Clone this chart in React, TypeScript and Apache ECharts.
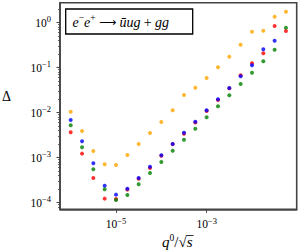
import React, { useEffect, useRef } from "react";
import * as echarts from "echarts";

const xValues = [1e-6, 1.78e-6, 3.16e-6, 5.62e-6, 1e-5, 1.78e-5, 3.16e-5, 5.62e-5, 1e-4, 1.78e-4, 3.16e-4, 5.62e-4, 1e-3, 1.78e-3, 3.16e-3, 5.62e-3, 1e-2, 1.78e-2, 3.16e-2, 5.62e-2];

const orangeValues = [1.05e-2, 3.92e-3, 1.41e-3, 7.13e-4, 6.89e-4, 1.15e-3, 2.01e-3, 3.54e-3, 6.21e-3, 1.13e-2, 2.47e-2, 3.6e-2, 5.9e-2, 1.02e-1, 1.75e-1, 3.24e-1, 6.31e-1, 6.64e-1, 1.36, 1.75];
const blueValues = [6.89e-3, 2.31e-3, 7.5e-4, 2.39e-4, 1.51e-4, 2.05e-4, 3.54e-4, 6.31e-4, 1.13e-3, 2.01e-3, 3.6e-3, 6.31e-3, 1.13e-2, 1.99e-2, 3.54e-2, 6.44e-2, 1.13e-1, 2.56e-1, 3.98e-1];
const redValues = [3.66e-3, 1.23e-3, 3.54e-4, 1.23e-4, 1.21e-4, 1.95e-4, 3.39e-4, 5.89e-4, 1.1e-3, 2.0e-3, 3.41e-3, 6.03e-3, 1.09e-2, 1.91e-2, 3.47e-2, 6.78e-2, 1.25e-1, 2.09e-1, 8.45e-1, 6.55e-1];
const greenValues = [5.25e-3, 1.7e-3, 5.52e-4, 1.99e-4, 1.15e-4, 1.48e-4, 2.56e-4, 4.57e-4, 8.02e-4, 1.43e-3, 2.51e-3, 4.41e-3, 7.91e-3, 1.39e-2, 2.44e-2, 4.35e-2, 7.74e-2, 1.39e-1, 2.51e-1, 7.74e-1];

const xTicks = [1e-5, 1e-3];
const yTicks = [1e-4, 1e-3, 1e-2, 1e-1, 1];
const yMinorTicks = [
  8e-5, 9e-5,
  2e-4, 3e-4, 4e-4, 5e-4, 6e-4, 7e-4, 8e-4, 9e-4,
  2e-3, 3e-3, 4e-3, 5e-3, 6e-3, 7e-3, 8e-3, 9e-3,
  2e-2, 3e-2, 4e-2, 5e-2, 6e-2, 7e-2, 8e-2, 9e-2,
  2e-1, 3e-1, 4e-1, 5e-1, 6e-1, 7e-1, 8e-1, 9e-1,
  2,
];

const X_MIN = 5.81e-7;
const X_MAX = 0.097;
const Y_MIN = 7.13e-5;
const Y_MAX = 2.78;

const SERIF = "Liberation Serif";
const AXIS_COLOR = "#444";

const pow10Label = (v: number) => {
  const e = Math.round(Math.log10(v));
  const s = e < 0 ? "\u2212" + -e : String(e);
  return `{b|10}{s|${s}}`;
};

const labelRich = {
  b: { fontFamily: SERIF, fontSize: 11.5, color: "#000" },
  s: { fontFamily: SERIF, fontSize: 8.5, color: "#000", padding: [0, 0, 7, 0] },
};

const toPairs = (vals: number[]) => vals.map((v, i) => [xValues[i], v]);

export default function App() {
  const ref = useRef<HTMLDivElement>(null);
  useEffect(() => {
    if (!ref.current) return;
    const chart = echarts.init(ref.current, null, { renderer: "svg" });
    const mkSeries = (name: string, vals: number[], color: string) => ({
      name,
      type: "scatter",
      data: toPairs(vals),
      symbol: "circle",
      symbolSize: 4,
      itemStyle: { color },
      yAxisIndex: 0,
    });
    chart.setOption({
      animation: false,
      backgroundColor: "#fff",
      textStyle: { fontFamily: SERIF },
      grid: {
        left: 60,
        right: 3.3,
        top: 2.7,
        bottom: 40.7,
        show: true,
        borderColor: AXIS_COLOR,
        borderWidth: 1.6,
        backgroundColor: "transparent",
      },
      xAxis: {
        type: "log",
        logBase: 10,
        min: X_MIN,
        max: X_MAX,
        axisLine: { show: true, onZero: false, lineStyle: { color: AXIS_COLOR, width: 1.6 } },
        axisTick: { show: true, customValues: xTicks, length: 3.5, lineStyle: { color: AXIS_COLOR, width: 1 } },
        axisLabel: {
          customValues: xTicks,
          formatter: pow10Label,
          rich: labelRich,
          fontFamily: SERIF,
          margin: 7,
        },
        splitLine: { show: false },
        minorTick: { show: false },
      },
      yAxis: [
        {
          type: "log",
          logBase: 10,
          min: Y_MIN,
          max: Y_MAX,
          axisLine: { show: true, onZero: false, lineStyle: { color: AXIS_COLOR, width: 1.6 } },
          axisTick: { show: true, customValues: yTicks, length: 3.5, lineStyle: { color: AXIS_COLOR, width: 1 } },
          axisLabel: {
            customValues: yTicks,
            formatter: pow10Label,
            rich: labelRich,
            fontFamily: SERIF,
            margin: 9,
          },
          splitLine: { show: false },
        },
        {
          type: "log",
          logBase: 10,
          min: Y_MIN,
          max: Y_MAX,
          position: "left",
          axisLine: { show: false, onZero: false },
          axisTick: { show: true, customValues: yMinorTicks, length: 2, lineStyle: { color: AXIS_COLOR, width: 0.8 } },
          axisLabel: { show: false },
          splitLine: { show: false },
        },
      ],
      series: [
        mkSeries("orange", orangeValues, "#FFA500"),
        mkSeries("red", redValues, "#FF0000"),
        mkSeries("blue", blueValues, "#0000FF"),
        mkSeries("green", greenValues, "#008000"),
      ],
      graphic: [
        {
          type: "text",
          left: 2,
          top: 89,
          style: { text: "\u0394", font: `14px ${SERIF}`, fill: "#000" },
        },
        {
          type: "text",
          x: 162,
          y: 242,
          style: {
            text: "{i|q}{s|0}{n|/\u221A}{i|s}",
            verticalAlign: "middle",
            rich: {
              i: { fontFamily: SERIF, fontStyle: "italic", fontSize: 15, fill: "#000" },
              s: { fontFamily: SERIF, fontSize: 9.5, fill: "#000", padding: [0, 0, 8, 0] },
              n: { fontFamily: SERIF, fontSize: 15, fill: "#000" },
            },
          },
        },
        {
          type: "line",
          shape: { x1: 186.5, y1: 235.5, x2: 193.5, y2: 235.5 },
          style: { stroke: "#000", lineWidth: 0.8 },
        },
        {
          type: "rect",
          shape: { x: 65.7, y: 9, width: 127, height: 25 },
          style: { fill: "#fff", stroke: "#000", lineWidth: 1.3 },
        },
        {
          type: "text",
          x: 72.5,
          y: 22,
          style: {
            text: "{i|e}{s|\u2212}{i|e}{s|+} {a|\u27F6} {i|\u016Bug} {n|+} {i|gg}",
            verticalAlign: "middle",
            rich: {
              i: { fontFamily: SERIF, fontStyle: "italic", fontSize: 14, fill: "#000" },
              s: { fontFamily: SERIF, fontSize: 9.5, fill: "#000", padding: [0, 0, 8, 0] },
              n: { fontFamily: SERIF, fontSize: 14, fill: "#000" },
              a: { fontFamily: "DejaVu Sans", fontSize: 12, fill: "#000" },
            },
          },
        },
      ],
    });
    return () => chart.dispose();
  }, []);
  return (
    <div
      ref={ref}
      style={{ position: "fixed", left: 0, top: 0, width: 300, height: 250 }}
    />
  );
}
